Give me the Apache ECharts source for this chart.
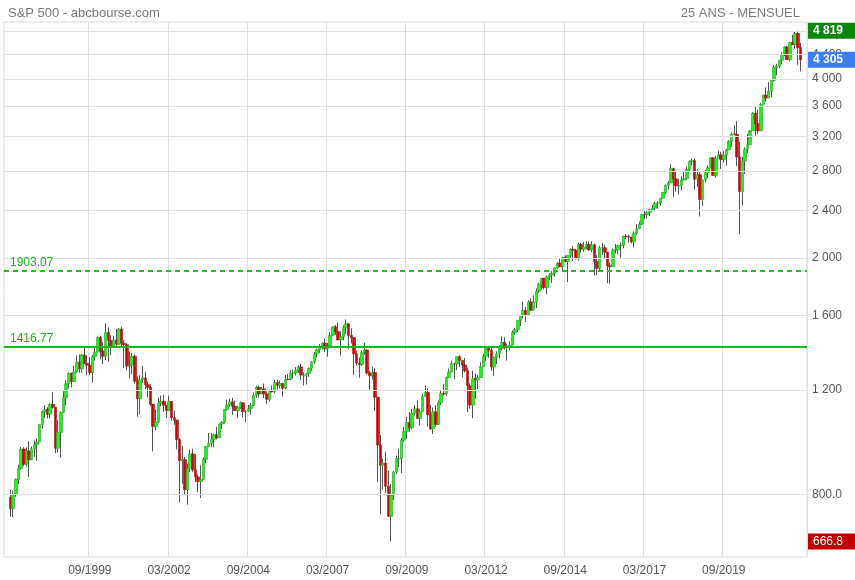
<!DOCTYPE html>
<html><head><meta charset="utf-8">
<script src="https://cdn.jsdelivr.net/npm/echarts@6/dist/echarts.min.js"></script>
<style>html,body{margin:0;padding:0;background:#fff}#c{width:855px;height:580px}</style>
</head><body><div id="c"></div>
<script>
// Monthly S&P 500, 03/1997 .. 02/2022
const startYear = 1997, startMonth = 3, monthCount = 300;
const opens = [
791,757,801,848,885,954,899,947,915,955,
970,980,1049,1102,1112,1091,1134,1121,957,1017,1099,1164,
1229,1280,1238,1286,1335,1302,1373,1329,1320,1283,1363,1389,
1469,1394,1366,1499,1452,1421,1455,1431,1518,1437,1429,1315,
1320,1366,1240,1160,1249,1256,1224,1211,1134,1041,1060,1139,
1148,1130,1107,1147,1077,1067,990,912,916,815,886,936,
880,856,841,848,917,964,975,990,1008,996,1051,1058,
1112,1131,1145,1126,1107,1121,1141,1102,1104,1115,1130,1174,
1212,1181,1204,1181,1157,1192,1191,1234,1220,1229,1207,1249,
1248,1280,1281,1295,1311,1270,1270,1277,1304,1336,1378,1401,
1418,1438,1407,1421,1482,1531,1503,1455,1474,1527,1549,1481,
1468,1379,1331,1323,1386,1400,1280,1267,1283,1166,969,896,
903,826,735,798,873,919,919,987,1021,1057,1036,1096,
1115,1074,1104,1169,1187,1089,1031,1102,1049,1141,1183,1181,
1258,1286,1327,1326,1364,1345,1321,1292,1219,1131,1253,1247,
1258,1312,1366,1408,1398,1310,1362,1379,1407,1441,1412,1416,
1426,1498,1515,1569,1598,1631,1606,1686,1633,1682,1757,1806,
1848,1783,1859,1872,1884,1924,1960,1931,2003,1972,2018,2068,
2059,1995,2105,2068,2086,2107,2063,2104,1972,1920,2079,2080,
2044,1940,1932,2060,2065,2097,2099,2174,2171,2168,2126,2199,
2239,2279,2364,2363,2384,2412,2423,2470,2472,2519,2575,2648,
2674,2824,2714,2641,2648,2705,2718,2816,2902,2914,2712,2760,
2507,2704,2784,2834,2946,2752,2942,2980,2926,2977,3038,3141,
3231,3226,2954,2585,2912,3044,3100,3271,3500,3363,3270,3622,
3756,3714,3811,3973,4181,4204,4298,4395,4523,4308,4605,4567,
4766,4516];
const highs = [
815,812,851,898,962,961,960,983,964,986,
993,1050,1106,1130,1122,1139,1190,1122,1066,1104,1193,1244,
1283,1282,1317,1370,1376,1378,1421,1371,1362,1373,1410,1474,
1479,1445,1553,1528,1481,1478,1517,1525,1531,1454,1438,1390,
1384,1376,1264,1269,1316,1287,1239,1226,1134,1111,1164,1173,
1176,1131,1173,1147,1107,1068,994,966,925,901,952,955,
935,864,896,924,965,1015,1015,1012,1040,1053,1063,1112,
1155,1159,1163,1151,1128,1147,1141,1109,1132,1140,1188,1218,
1217,1212,1229,1192,1200,1219,1246,1246,1243,1233,1271,1276,
1295,1297,1310,1319,1326,1284,1280,1307,1340,1389,1407,1432,
1441,1462,1438,1499,1535,1541,1556,1504,1539,1576,1552,1523,
1471,1396,1359,1397,1440,1405,1292,1313,1303,1167,1007,919,
944,877,833,877,930,956,996,1039,1080,1101,1113,1130,
1151,1113,1180,1220,1205,1132,1120,1130,1151,1196,1228,1263,
1303,1344,1332,1364,1371,1346,1357,1307,1230,1292,1277,1270,
1334,1378,1420,1422,1415,1363,1392,1426,1475,1470,1434,1448,
1510,1525,1570,1598,1687,1654,1698,1710,1730,1776,1814,1850,
1850,1868,1884,1898,1925,1969,1992,2006,2020,2018,2076,2094,
2072,2120,2118,2126,2135,2130,2133,2113,2021,2094,2117,2104,
2044,1963,2073,2111,2104,2121,2178,2194,2188,2169,2214,2278,
2301,2372,2401,2399,2419,2454,2484,2491,2519,2582,2657,2695,
2873,2835,2801,2717,2742,2791,2848,2917,2941,2940,2816,2800,
2708,2813,2861,2950,2954,2965,3028,3014,3022,3050,3154,3248,
3338,3394,3136,2955,3068,3233,3280,3515,3588,3549,3646,3760,
3870,3951,3995,4218,4238,4302,4429,4538,4546,4608,4744,4808,
4819,4595];
const lows = [
734,733,793,833,880,893,891,856,915,926,
912,980,1032,1076,1074,1074,1115,939,940,923,1097,1130,
1206,1212,1237,1281,1282,1281,1328,1269,1269,1233,1343,1387,
1350,1326,1346,1339,1373,1418,1416,1430,1419,1305,1294,1254,
1275,1228,1081,1091,1233,1203,1165,1126,945,1026,1054,1124,
1101,1075,1107,1064,1048,953,776,834,800,769,873,872,
840,807,789,847,902,963,962,960,990,996,1031,1053,
1106,1124,1088,1107,1077,1114,1078,1060,1101,1090,1127,1163,
1164,1180,1163,1137,1146,1188,1184,1201,1206,1169,1202,1246,
1245,1253,1268,1281,1245,1220,1225,1262,1291,1327,1361,1385,
1403,1389,1364,1417,1476,1485,1454,1371,1453,1489,1406,1435,
1271,1317,1257,1315,1374,1272,1200,1248,1106,840,741,815,
805,735,667,783,866,889,869,979,992,1020,1030,1086,
1071,1045,1102,1167,1041,1028,1011,1040,1049,1131,1174,1174,
1257,1285,1249,1295,1311,1259,1283,1101,1115,1075,1159,1203,
1258,1312,1341,1358,1291,1267,1325,1355,1397,1403,1343,1398,
1426,1485,1501,1536,1582,1560,1604,1627,1633,1646,1746,1768,
1770,1738,1834,1815,1860,1915,1930,1905,1964,1821,2001,1973,
1988,1981,2040,2049,2068,2057,2045,1867,1872,1893,2020,1993,
1812,1810,1932,2034,2026,1992,2075,2148,2120,2115,2084,2188,
2239,2271,2322,2329,2353,2405,2407,2418,2446,2519,2557,2605,
2674,2533,2585,2553,2594,2698,2699,2796,2864,2604,2631,2347,
2444,2681,2722,2834,2751,2729,2942,2822,2891,2856,3038,3070,
3214,2855,2192,2448,2767,2999,3100,3271,3210,3234,3270,3622,
3663,3714,3723,3955,4056,4165,4234,4368,4305,4279,4560,4496,
4223,4115];
const closes = [
757,801,848,885,954,899,947,915,955,970,
980,1049,1102,1112,1091,1134,1121,957,1017,1099,1164,1229,
1280,1238,1286,1335,1302,1373,1329,1320,1283,1363,1389,1469,
1394,1366,1499,1452,1421,1455,1431,1518,1437,1429,1315,1320,
1366,1240,1160,1249,1256,1224,1211,1134,1041,1060,1139,1148,
1130,1107,1147,1077,1067,990,912,916,815,886,936,880,
856,841,848,917,964,975,990,1008,996,1051,1058,1112,
1131,1145,1126,1107,1121,1141,1102,1104,1115,1130,1174,1212,
1181,1204,1181,1157,1192,1191,1234,1220,1229,1207,1249,1248,
1280,1281,1295,1311,1270,1270,1277,1304,1336,1378,1401,1418,
1438,1407,1421,1482,1531,1503,1455,1474,1527,1549,1481,1468,
1379,1331,1323,1386,1400,1280,1267,1283,1166,969,896,903,
826,735,798,873,919,919,987,1021,1057,1036,1096,1115,
1074,1104,1169,1187,1089,1031,1102,1049,1141,1183,1181,1258,
1286,1327,1326,1364,1345,1321,1292,1219,1131,1253,1247,1258,
1312,1366,1408,1398,1310,1362,1379,1407,1441,1412,1416,1426,
1498,1515,1569,1598,1631,1606,1686,1633,1682,1757,1806,1848,
1783,1859,1872,1884,1924,1960,1931,2003,1972,2018,2068,2059,
1995,2105,2068,2086,2107,2063,2104,1972,1920,2079,2080,2044,
1940,1932,2060,2065,2097,2099,2174,2171,2168,2126,2199,2239,
2279,2364,2363,2384,2412,2423,2470,2472,2519,2575,2648,2674,
2824,2714,2641,2648,2705,2718,2816,2902,2914,2712,2760,2507,
2704,2784,2834,2946,2752,2942,2980,2926,2977,3038,3141,3231,
3226,2954,2585,2912,3044,3100,3271,3500,3363,3270,3622,3756,
3714,3811,3973,4181,4204,4298,4395,4523,4308,4605,4567,4766,
4516,4305];

const xTickLabels = ['09/1999','03/2002','09/2004','03/2007','09/2009','03/2012','09/2014','03/2017','09/2019'];
const yTickValues = [800,1200,1600,2000,2400,2800,3200,3600,4000,4400,4800];
const yTickLabels = ['800.0','1 200','1 600','2 000','2 400','2 800','3 200','3 600','4 000','4 400','4 800'];
const levelValues = [1903.07, 1416.77];
const levelLabels = ['1903.07', '1416.77'];
const highValue = 4819, highLabel = '4 819';
const lastValue = 4305, lastLabel = '4 305';
const lowValue = 666.8, lowLabel = '666.8';

const PAD = 2;
const categories = [];
for (let i = 0; i < PAD; i++) categories.push('pad_s' + i);
for (let i = 0; i < monthCount; i++) {
  const m = (startMonth - 1 + i) % 12 + 1;
  const y = startYear + Math.floor((startMonth - 1 + i) / 12);
  categories.push((m < 10 ? '0' : '') + m + '/' + y);
}
for (let i = 0; i < PAD; i++) categories.push('pad_e' + i);

const wickData = opens.map((o, i) => [i + PAD, o, closes[i], lows[i], highs[i]]);
const bodyData = opens.map((o, i) => [i + PAD, o, closes[i], o, closes[i]]);
const showTick = (idx, val) => xTickLabels.indexOf(val) >= 0;

const FONT = 'Liberation Sans, Arial, sans-serif';
const chart = echarts.init(document.getElementById('c'), null, {renderer: 'canvas'});
chart.setOption({
  animation: false,
  backgroundColor: '#fff',
  title: [
    {text: 'S&P 500 - abcbourse.com', left: 3, top: 2, textStyle: {fontFamily: FONT, fontSize: 13, fontWeight: 'normal', color: '#7a7a7a'}},
    {text: '25 ANS - MENSUEL', right: 50, top: 2, textStyle: {fontFamily: FONT, fontSize: 13, fontWeight: 'normal', color: '#7a7a7a'}}
  ],
  grid: {left: 4, right: 48, top: 22, bottom: 23, show: true, borderColor: '#d9d9d9', borderWidth: 1, containLabel: false},
  xAxis: {
    type: 'category', data: categories, boundaryGap: true,
    axisLine: {show: false}, axisTick: {show: false},
    axisLabel: {interval: showTick, color: '#555', fontFamily: FONT, fontSize: 12, margin: 8},
    splitLine: {show: true, interval: showTick, lineStyle: {color: '#e0e0e0', width: 1}}
  },
  yAxis: {
    type: 'log', logBase: 10, min: 628, max: 4984, position: 'right',
    axisLine: {show: false}, axisTick: {show: false}, axisLabel: {show: false}, splitLine: {show: false}
  },
  series: [
    {
      type: 'line', data: [], silent: true, z: 1,
      markLine: {
        silent: true, symbol: 'none',
        lineStyle: {color: '#e0e0e0', width: 1, type: 'solid'},
        label: {position: 'end', distance: 5, color: '#5a5a5a', fontFamily: FONT, fontSize: 12},
        data: yTickValues.map((v, i) => ({yAxis: v, label: {formatter: yTickLabels[i]}}))
      }
    },
    {
      type: 'candlestick', data: wickData, encode: {x: 0, y: [1, 2, 3, 4]}, barWidth: 1, z: 3, silent: true,
      itemStyle: {color: '#555', color0: '#555', borderColor: '#555', borderColor0: '#555', borderWidth: 1}
    },
    {
      type: 'candlestick', data: bodyData, encode: {x: 0, y: [1, 2, 3, 4]}, barWidth: 3, z: 4, silent: true,
      itemStyle: {color: '#1ff01f', color0: '#ee1111', borderColor: '#25a825', borderColor0: '#a51010', borderWidth: 0.6}
    },
    {
      type: 'line', data: [], silent: true, z: 5,
      markLine: {
        silent: true, symbol: 'none',
        data: [
          {yAxis: levelValues[0], lineStyle: {color: '#1cbf1c', width: 2, type: [5, 4]},
           label: {formatter: levelLabels[0]}},
          {yAxis: levelValues[1], lineStyle: {color: '#1cb51c', width: 2, type: 'solid'},
           label: {formatter: levelLabels[1]}}
        ],
        label: {position: 'insideStartTop', distance: [6, 2], color: '#22b022', fontFamily: FONT, fontSize: 12}
      }
    },
    {
      type: 'line', data: [], silent: true, z: 10,
      markLine: {
        silent: true, symbol: 'none', lineStyle: {color: 'rgba(0,0,0,0)', width: 1},
        label: {show: true, position: 'end', distance: 1, color: '#fff', fontFamily: FONT, fontSize: 12, fontWeight: 'bold',
                width: 38, lineHeight: 14, padding: [1, 4, 1, 5]},
        data: [
          {yAxis: highValue, label: {formatter: highLabel, backgroundColor: '#0c870c'}},
          {yAxis: lastValue, label: {formatter: lastLabel, backgroundColor: '#3d7ef2'}},
          {yAxis: lowValue, label: {formatter: lowLabel, backgroundColor: '#c00000', fontWeight: 'normal'}}
        ]
      }
    }
  ]
});
</script>
</body></html>
